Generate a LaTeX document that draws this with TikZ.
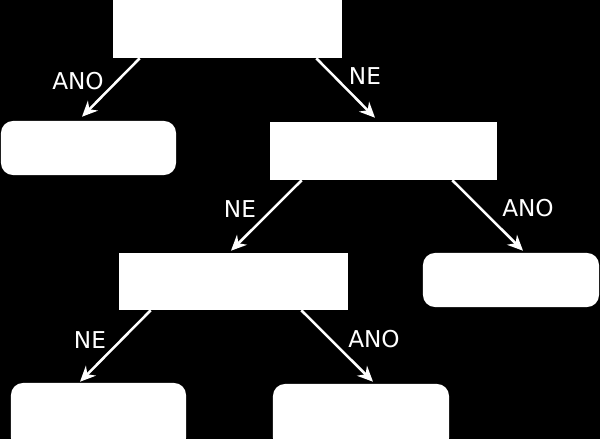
\documentclass[tikz,border=0pt]{standalone}
\usepackage{fontspec}
\setmainfont{DejaVu Sans}
\usetikzlibrary{calc,arrows.meta}

\begin{document}
\begin{tikzpicture}[x=0.025cm, y=-0.025cm,
    font=\fontsize{16.5pt}{18pt}\selectfont,
    testbox/.style={fill=white, draw=none, inner sep=0pt},
    leafbox/.style={fill=white, draw=none, inner sep=0pt, rounded corners=0.3cm},
    branch/.style={draw=white, line width=1.8pt, -{Stealth[length=11pt, width=10pt]}},
    answer/.style={text=white, inner sep=0pt}]

  % ---------- background ----------
  \fill[black] (0,0) rectangle (600,439);
  \useasboundingbox (0,0) rectangle (600,439);

  % ---------- decision boxes ----------
  \node[testbox, minimum width=5.725cm, minimum height=1.7cm]   (root)  at (227.5,24)  {};
  \node[testbox, minimum width=5.675cm, minimum height=1.45cm]  (test2) at (383.5,151) {};
  \node[testbox, minimum width=5.725cm, minimum height=1.425cm] (test3) at (233.5,281.5) {};

  % ---------- leaves ----------
  \node[leafbox, minimum width=4.375cm, minimum height=1.35cm]  (leaf1) at (88.5,148) {};
  \node[leafbox, minimum width=4.4cm,   minimum height=1.35cm]  (leaf2) at (511,280)   {};
  \node[leafbox, minimum width=4.375cm, minimum height=1.675cm] (leaf3) at (98.5,416.5) {};
  \node[leafbox, minimum width=4.4cm,   minimum height=1.65cm]  (leaf4) at (361,417)   {};

  % ---------- branches ----------
  \draw[branch] ($(root.south west)+(27,0)$)   -- ($(leaf1.north)+(-6.5,-4)$);
  \draw[branch] ($(root.south east)+(-26,0)$)  -- ($(test2.north)+(-8.5,-4)$);
  \draw[branch] ($(test2.south west)+(32,0)$)  -- ($(test3.north)+(-2.5,-2)$);
  \draw[branch] ($(test2.south east)+(-45,0)$) -- ($(leaf2.north)+(12,-2)$);
  \draw[branch] ($(test3.south west)+(32,0)$)  -- ($(leaf3.north)+(-18.5,-1)$);
  \draw[branch] ($(test3.south east)+(-47,0)$) -- ($(leaf4.north)+(12,-2)$);

  % ---------- answers ----------
  \node[answer] (ans1) at (78,81)   {ANO};
  \node[answer] (ans2) at (365,76)  {NE};
  \node[answer] (ans3) at (240,209) {NE};
  \node[answer] (ans4) at (528,208) {ANO};
  \node[answer] (ans5) at (90,340)  {NE};
  \node[answer] (ans6) at (374,339) {ANO};

\end{tikzpicture}
\end{document}
